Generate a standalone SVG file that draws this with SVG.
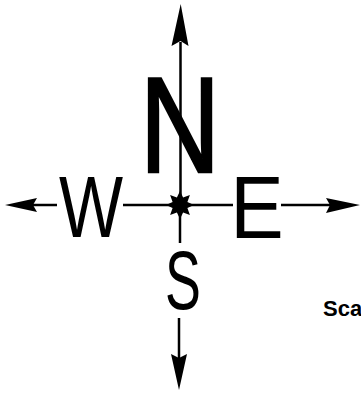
<svg xmlns="http://www.w3.org/2000/svg" width="361" height="396" viewBox="0 0 361 396">
<style>
.ln{stroke:#000;stroke-width:2.5;fill:none}
.hd{fill:#000}
.lt{font-family:"Liberation Sans",Arial,sans-serif;fill:#000;text-anchor:middle}
</style>
<rect width="361" height="396" fill="#fff"/>
<g id="connectors">
<line class="ln" x1="180.5" y1="42" x2="180.5" y2="205"/>
<line class="ln" x1="180" y1="205" x2="180" y2="243"/>
<line class="ln" x1="179" y1="318" x2="179" y2="358"/>
<line class="ln" x1="32" y1="205" x2="57" y2="205"/>
<line class="ln" x1="123" y1="205" x2="233" y2="205"/>
<line class="ln" x1="281" y1="205" x2="330" y2="205"/>
<polygon class="hd" points="180.7,4 188.5,46 180.5,41 171.5,46"/>
<polygon class="hd" points="179,390 187,354 179,358 171,354"/>
<polygon class="hd" points="5,205 37,198 33,205 37,212"/>
<polygon class="hd" points="360,205 326,198 330,205 326,213"/>
</g>
<g id="star">
<polygon class="hd" points="180,191 183.1,197.6 189.9,195.1 187.4,201.9 194,205 187.4,208.1 189.9,214.9 183.1,212.4 180,219 176.9,212.4 170.1,214.9 172.6,208.1 166,205 172.6,201.9 170.1,195.1 176.9,197.6"/>
</g>
<g id="north">
<text class="lt" font-size="136" stroke="#000" stroke-width="2.5" transform="translate(180,172) scale(0.82,1)">N</text>
</g>
<g id="west">
<text class="lt" font-size="87" transform="translate(91,237) scale(0.78,1)">W</text>
</g>
<g id="east">
<text class="lt" font-size="89" transform="translate(257,238) scale(0.9,1)">E</text>
</g>
<g id="south">
<text class="lt" font-size="84" transform="translate(183,309) scale(0.64,1)">S</text>
</g>
<g id="scale">
<text font-family="Liberation Sans,Arial,sans-serif" font-weight="bold" font-size="22" x="323" y="316">Sca</text>
</g>
</svg>
